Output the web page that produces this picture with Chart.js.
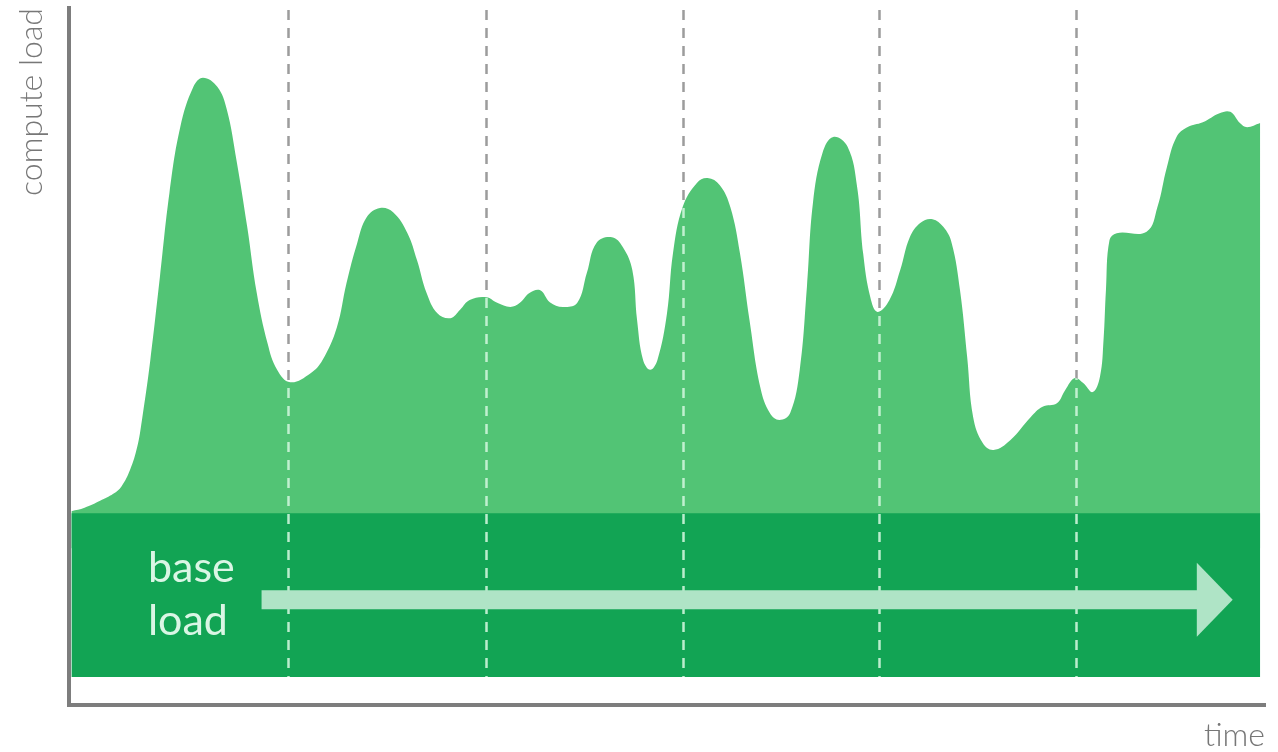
<!DOCTYPE html>
<html>
<head>
<meta charset="utf-8">
<title>compute load over time</title>
<script src="https://cdn.jsdelivr.net/npm/chart.js@4.4.1/dist/chart.umd.min.js"></script>
<style>
  html, body { margin: 0; padding: 0; background: #fff; }
  #loadChart { display: block; }
</style>
</head>
<body>
<canvas id="loadChart" width="1278" height="752"></canvas>
<script>
// time axis runs 0..100, load axis 0..100
const timePoints = [
    0.2, 1.3, 2.6, 3.7, 4.4, 5.1, 5.7, 6.1, 6.8, 7.6, 8.4, 9.3, 10.4, 11.2, 12.4, 13.2, 14.0, 14.9, 15.7,
    16.6, 17.4, 18.5, 20.2, 21.2, 22.4, 23.2, 24.1, 24.9, 26.0, 27.1, 28.3, 29.1, 29.9, 30.8, 31.9, 32.7, 33.5, 34.9, 35.8,
    36.9, 37.7, 38.5, 39.4, 40.2, 41.3, 42.5, 43.3, 44.1, 45.4, 46.3, 47.1, 47.5, 48.0, 48.6, 49.2, 50.0, 50.5, 51.3, 52.5,
    53.4, 54.4, 55.3, 56.1, 56.9, 57.8, 58.6, 59.4, 60.3, 61.1, 61.7, 62.2, 63.0, 63.9, 65.1, 65.9, 66.4, 67.0, 67.6, 68.6,
    69.5, 70.3, 71.2, 72.2, 73.1, 73.8, 74.5, 75.1, 75.6, 76.4, 77.3, 78.7, 80.4, 81.4, 82.6, 83.3, 84.1, 84.8, 85.6, 86.2,
    86.5, 86.7, 87.0, 87.6, 90.1, 91.0, 91.8, 92.6, 93.5, 94.8, 96.2, 97.1, 97.9, 98.5, 99.6
];
const computeLoad = [
    27.8, 28.3, 29.3, 30.3, 31.4, 33.7, 37.0, 40.9, 49.5, 61.4, 73.5, 82.9, 88.7, 90.0, 88.7, 85.4, 78.2, 68.6, 59.1,
    51.9, 48.1, 46.3, 47.6, 49.5, 54.2, 60.5, 66.3, 70.0, 71.3, 70.7, 67.7, 63.8, 59.1, 56.2, 55.5, 56.7, 58.1, 58.5, 57.7,
    57.1, 57.7, 59.1, 59.5, 57.8, 57.1, 57.7, 62.0, 66.3, 67.1, 65.7, 62.4, 55.2, 49.5, 48.1, 49.5, 56.2, 64.8, 71.4, 74.9,
    75.6, 74.6, 71.4, 64.8, 55.2, 45.6, 41.9, 40.9, 41.9, 48.1, 60.0, 72.0, 79.2, 81.5, 80.1, 74.3, 64.8, 58.5, 56.4, 58.1,
    62.4, 67.1, 69.2, 69.7, 68.6, 66.3, 59.5, 49.9, 41.3, 37.6, 36.6, 38.0, 41.3, 42.8, 43.3, 45.2, 46.9, 46.2, 44.9, 47.1,
    52.4, 59.5, 66.7, 67.7, 67.9, 71.4, 77.2, 81.5, 82.9, 83.6, 84.9, 85.1, 83.5, 82.9, 83.5
];

const baseLoad = 27.5;
const baseFloor = 4.0;
const intervalMarks = [18.3, 34.9, 51.3, 67.7, 84.2];
const arrowFrom = 16.1;
const arrowHead = 94.3;
const arrowTip = 97.3;
const arrowLevel = 15.1;
const baseLabel = ['base', 'load'];
const baseLabelX = 6.6;
const baseLabelY = [17.6, 10.0];

const lightGreen = '#52c475';
const darkGreen = '#12a454';

const curve = timePoints.map((t, i) => ({ x: t, y: computeLoad[i] }));
const baseLine = [
    { x: timePoints[0], y: baseLoad },
    { x: timePoints[timePoints.length - 1], y: baseLoad }
];

// dashes + arrow + label on top of the areas
const overlay = {
    id: 'overlay',
    afterDatasetsDraw(chart) {
        const { ctx, chartArea } = chart;
        const xs = chart.scales.x;
        const ys = chart.scales.y;
        const yBottom = ys.getPixelForValue(baseFloor);

        ctx.save();
        ctx.beginPath();
        intervalMarks.forEach(m => {
            const px = Math.round(xs.getPixelForValue(m)) + 0.5;
            ctx.moveTo(px, chartArea.top + 2);
            ctx.lineTo(px, yBottom);
        });
        ctx.setLineDash([10, 8]);
        ctx.lineWidth = 2.5;
        // light dashes only over the green
        ctx.globalCompositeOperation = 'source-atop';
        ctx.strokeStyle = 'rgba(205, 245, 218, 0.9)';
        ctx.stroke();
        // grey dashes behind, visible on the white
        ctx.globalCompositeOperation = 'destination-over';
        ctx.strokeStyle = '#9c9c9c';
        ctx.stroke();
        ctx.restore();

        // arrow
        const yc = ys.getPixelForValue(arrowLevel);
        const x0 = xs.getPixelForValue(arrowFrom);
        const xh = xs.getPixelForValue(arrowHead);
        const xt = xs.getPixelForValue(arrowTip);
        ctx.save();
        ctx.fillStyle = '#afe4c6';
        ctx.fillRect(x0, yc - 9.5, xh - x0 + 1, 19);
        ctx.beginPath();
        ctx.moveTo(xh, yc - 37);
        ctx.lineTo(xt, yc);
        ctx.lineTo(xh, yc + 37);
        ctx.closePath();
        ctx.fill();

        ctx.fillStyle = '#daf6e5';
        ctx.font = '400 43px Lato, "Open Sans", sans-serif';
        ctx.textAlign = 'left';
        ctx.textBaseline = 'alphabetic';
        baseLabel.forEach((word, i) => {
            ctx.fillText(word, xs.getPixelForValue(baseLabelX), ys.getPixelForValue(baseLabelY[i]));
        });
        ctx.restore();
    }
};

const ctx = document.getElementById('loadChart').getContext('2d');
new Chart(ctx, {
    type: 'line',
    data: {
        datasets: [
            {
                label: 'base load',
                data: baseLine,
                borderWidth: 0,
                pointRadius: 0,
                backgroundColor: darkGreen,
                fill: { value: baseFloor }
            },
            {
                label: 'compute load',
                data: curve,
                borderWidth: 0,
                pointRadius: 0,
                tension: 0.4,
                backgroundColor: lightGreen,
                fill: { value: baseLoad - 5 }
            }
        ]
    },
    options: {
        responsive: false,
        animation: false,
        devicePixelRatio: 1,
        layout: { padding: { left: 6, right: 13, top: 8, bottom: 0 } },
        plugins: {
            legend: { display: false },
            tooltip: { enabled: false }
        },
        scales: {
            x: {
                type: 'linear',
                min: 0,
                max: 100,
                grid: { display: false, drawTicks: false },
                ticks: { display: false },
                border: { display: true, color: '#7d7d7d', width: 4 },
                title: {
                    display: true,
                    text: 'time',
                    align: 'end',
                    color: '#777',
                    font: { family: 'Lato, "Open Sans", sans-serif', size: 32, weight: '300', lineHeight: 1 },
                    padding: { top: 15, bottom: 0 }
                }
            },
            y: {
                min: 0,
                max: 100,
                grid: { display: false, drawTicks: false },
                ticks: { display: false },
                border: { display: true, color: '#7d7d7d', width: 4 },
                title: {
                    display: true,
                    text: 'compute load',
                    align: 'end',
                    color: '#777',
                    font: { family: 'Lato, "Open Sans", sans-serif', size: 32, weight: '300', lineHeight: 1 },
                    padding: { top: 10, bottom: 21 }
                }
            }
        }
    },
    plugins: [overlay]
});
</script>
</body>
</html>
